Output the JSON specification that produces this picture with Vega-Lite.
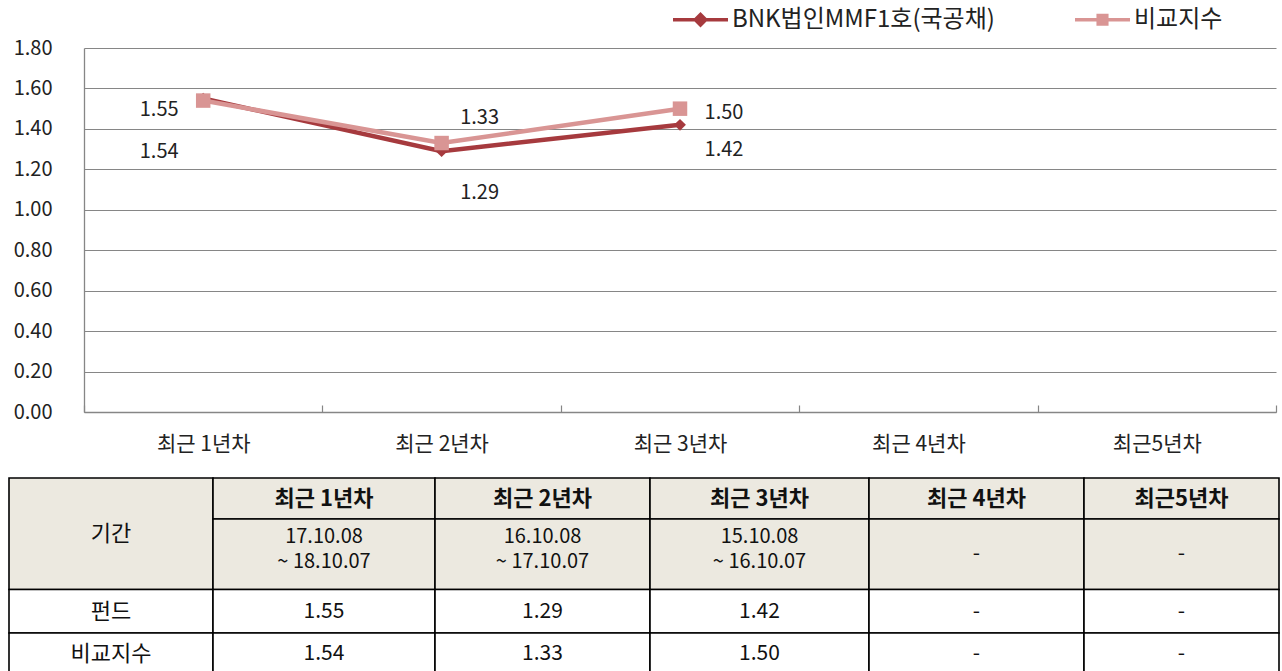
{
  "$schema": "https://vega.github.io/schema/vega-lite/v6.json",
  "width": 1192,
  "height": 364,
  "autosize": {"type": "none"},
  "padding": {"left": 84, "top": 48, "right": 6, "bottom": 259},
  "background": "white",
  "config": {"font": "Noto Sans CJK KR", "view": {"stroke": null}},
  "datasets": {
    "series": [
      {"period": "최근 1년차", "series": "BNK법인MMF1호(국공채)", "value": 1.55},
      {"period": "최근 2년차", "series": "BNK법인MMF1호(국공채)", "value": 1.29},
      {"period": "최근 3년차", "series": "BNK법인MMF1호(국공채)", "value": 1.42},
      {"period": "최근 1년차", "series": "비교지수", "value": 1.54},
      {"period": "최근 2년차", "series": "비교지수", "value": 1.33},
      {"period": "최근 3년차", "series": "비교지수", "value": 1.50}
    ],
    "cells": [
      {"row": 0, "rowEnd": 2, "col": 0, "colEnd": 1, "label": "기간"},
      {"row": 0, "rowEnd": 1, "col": 1, "colEnd": 2, "label": "최근 1년차"},
      {"row": 0, "rowEnd": 1, "col": 2, "colEnd": 3, "label": "최근 2년차"},
      {"row": 0, "rowEnd": 1, "col": 3, "colEnd": 4, "label": "최근 3년차"},
      {"row": 0, "rowEnd": 1, "col": 4, "colEnd": 5, "label": "최근 4년차"},
      {"row": 0, "rowEnd": 1, "col": 5, "colEnd": 6, "label": "최근5년차"},
      {"row": 1, "rowEnd": 2, "col": 1, "colEnd": 2, "label": ["17.10.08", "~ 18.10.07"]},
      {"row": 1, "rowEnd": 2, "col": 2, "colEnd": 3, "label": ["16.10.08", "~ 17.10.07"]},
      {"row": 1, "rowEnd": 2, "col": 3, "colEnd": 4, "label": ["15.10.08", "~ 16.10.07"]},
      {"row": 1, "rowEnd": 2, "col": 4, "colEnd": 5, "label": "-"},
      {"row": 1, "rowEnd": 2, "col": 5, "colEnd": 6, "label": "-"},
      {"row": 2, "rowEnd": 3, "col": 0, "colEnd": 1, "label": "펀드"},
      {"row": 2, "rowEnd": 3, "col": 1, "colEnd": 2, "label": "1.55"},
      {"row": 2, "rowEnd": 3, "col": 2, "colEnd": 3, "label": "1.29"},
      {"row": 2, "rowEnd": 3, "col": 3, "colEnd": 4, "label": "1.42"},
      {"row": 2, "rowEnd": 3, "col": 4, "colEnd": 5, "label": "-"},
      {"row": 2, "rowEnd": 3, "col": 5, "colEnd": 6, "label": "-"},
      {"row": 3, "rowEnd": 4, "col": 0, "colEnd": 1, "label": "비교지수"},
      {"row": 3, "rowEnd": 4, "col": 1, "colEnd": 2, "label": "1.54"},
      {"row": 3, "rowEnd": 4, "col": 2, "colEnd": 3, "label": "1.33"},
      {"row": 3, "rowEnd": 4, "col": 3, "colEnd": 4, "label": "1.50"},
      {"row": 3, "rowEnd": 4, "col": 4, "colEnd": 5, "label": "-"},
      {"row": 3, "rowEnd": 4, "col": 5, "colEnd": 6, "label": "-"}
    ]
  },
  "layer": [
    {
      "data": {"name": "series"},
      "encoding": {
        "x": {
          "field": "period", "type": "nominal",
          "scale": {"domain": ["최근 1년차", "최근 2년차", "최근 3년차", "최근 4년차", "최근5년차"], "paddingInner": 0, "paddingOuter": 0},
          "axis": {"title": null, "labelAngle": 0, "labelFontSize": 21, "labelColor": "#222", "labelPadding": 28,
                   "domainColor": "#868686", "domainWidth": 1.3, "tickColor": "#868686", "tickWidth": 1.2,
                   "tickBand": "extent", "tickSize": -7, "grid": false}
        },
        "y": {
          "field": "value", "type": "quantitative",
          "scale": {"domain": [0, 1.8], "nice": false},
          "axis": {"title": null, "values": [0, 0.2, 0.4, 0.6, 0.8, 1.0, 1.2, 1.4, 1.6, 1.8], "format": ".2f",
                   "grid": true, "gridColor": "#868686", "gridWidth": 1.2, "ticks": false,
                   "domainColor": "#868686", "domainWidth": 1.3, "labelFontSize": 20, "labelColor": "#222", "labelPadding": 32}
        },
        "color": {
          "field": "series", "type": "nominal",
          "scale": {"domain": ["BNK법인MMF1호(국공채)", "비교지수"], "range": ["#A63A3E", "#D99594"]},
          "legend": {
            "title": null, "orient": "none", "legendX": 589, "legendY": -56, "direction": "horizontal",
            "labelFontSize": 24, "labelColor": "#222", "labelOffset": 4, "labelLimit": 0, "columnPadding": 80,
            "symbolSize": 3025, "symbolStrokeWidth": 0,
            "encode": {
              "symbols": {
                "update": {
                  "shape": {"signal": "datum.value === '비교지수' ? 'M-1,-0.06H1V0.06H-1Z M-0.22,-0.22H0.22V0.22H-0.22Z' : 'M-1,-0.06H1V0.06H-1Z M0,-0.28L0.28,0L0,0.28L-0.28,0Z'"},
                  "fill": {"signal": "datum.value === '비교지수' ? '#D99594' : '#A63A3E'"},
                  "stroke": {"value": "transparent"},
                  "strokeWidth": {"value": 0},
                  "size": {"value": 3025},
                  "opacity": {"value": 1}
                }
              }
            }
          }
        }
      },
      "layer": [
        {"mark": {"type": "line", "strokeWidth": 4.5}},
        {
          "transform": [{"filter": "datum.series === 'BNK법인MMF1호(국공채)'"}],
          "mark": {"type": "point", "shape": "diamond", "filled": true, "size": 140, "opacity": 1}
        },
        {
          "transform": [{"filter": "datum.series === '비교지수'"}],
          "mark": {"type": "point", "shape": "square", "filled": true, "size": 210, "opacity": 1}
        },
        {
          "mark": {
            "type": "text", "fontSize": 20, "baseline": "middle", "align": "center",
            "dx": {"expr": "datum.period === '최근 1년차' ? -44 : (datum.period === '최근 2년차' ? 38 : 44)"},
            "dy": {"expr": "datum.series === '비교지수' ? (datum.period === '최근 1년차' ? 51 : (datum.period === '최근 2년차' ? -25 : 4)) : (datum.period === '최근 1년차' ? 11 : (datum.period === '최근 2년차' ? 42 : 25))"}
          },
          "encoding": {
            "text": {"field": "value", "type": "quantitative", "format": ".2f"},
            "color": {"value": "#222"}
          }
        }
      ]
    },
    {
      "data": {"name": "cells"},
      "layer": [
        {
          "encoding": {
            "x": {"field": "col", "type": "quantitative",
                  "scale": {"domain": [0, 1, 2, 3, 4, 5, 6], "range": [-75, 129, 351, 566, 785, 1000, 1195], "nice": false, "zero": false},
                  "axis": null},
            "y": {"field": "row", "type": "quantitative",
                  "scale": {"domain": [0, 1, 2, 3, 4], "range": [430, 471, 541.5, 585, 627], "nice": false, "zero": false},
                  "axis": null}
          },
          "layer": [
            {
              "mark": {"type": "rect", "stroke": "#000", "strokeWidth": 1.6},
              "encoding": {
                "x2": {"field": "colEnd"},
                "y2": {"field": "rowEnd"},
                "fill": {"condition": {"test": "datum.row < 2", "value": "#ECE9E0"}, "value": "#FFFFFF"}
              }
            },
            {
              "data": {"values": [{"line": "header-body"}]},
              "mark": {"type": "rule", "color": "#000", "strokeWidth": 4.6},
              "encoding": {"x": {"datum": 0}, "x2": {"datum": 6}, "y": {"datum": 2}}
            },
            {
              "data": {"values": [{"line": "header-body"}]},
              "mark": {"type": "rule", "color": "#FFFFFF", "strokeWidth": 1.6},
              "encoding": {"x": {"datum": 0}, "x2": {"datum": 6}, "y": {"datum": 2}}
            }
          ]
        },
        {
          "encoding": {
            "x": {"field": "col", "type": "quantitative",
                  "scale": {"domain": [0, 1, 2, 3, 4, 5], "range": [27, 240, 458.5, 675.5, 892.5, 1097.5], "nice": false, "zero": false},
                  "axis": null},
            "y": {"field": "row", "type": "quantitative",
                  "scale": {"domain": [0, 1, 2, 3], "range": [450.5, 506, 564, 606], "nice": false, "zero": false},
                  "axis": null},
            "text": {"field": "label", "type": "nominal"}
          },
          "layer": [
            {
              "transform": [{"filter": "datum.row === 0 && datum.col > 0"}],
              "mark": {"type": "text", "fontSize": 22, "fontWeight": "bold", "color": "#111", "baseline": "middle", "align": "center"}
            },
            {
              "transform": [{"filter": "datum.row === 0 && datum.col === 0"}],
              "mark": {"type": "text", "fontSize": 22, "color": "#111", "baseline": "middle", "align": "center", "dy": 35}
            },
            {
              "transform": [{"filter": "datum.row === 1 && datum.col <= 3"}],
              "mark": {"type": "text", "fontSize": 20, "color": "#111", "baseline": "middle", "align": "center", "lineHeight": 25, "dy": -17}
            },
            {
              "transform": [{"filter": "datum.row > 1 && datum.col === 0"}],
              "mark": {"type": "text", "fontSize": 22, "color": "#111", "baseline": "middle", "align": "center"}
            },
            {
              "transform": [{"filter": "(datum.row === 1 && datum.col > 3) || (datum.row > 1 && datum.col > 0)"}],
              "mark": {"type": "text", "fontSize": 21, "color": "#111", "baseline": "middle", "align": "center"}
            }
          ],
          "resolve": {"scale": {"x": "shared", "y": "shared"}}
        }
      ],
      "resolve": {"scale": {"x": "independent", "y": "independent"}}
    }
  ],
  "resolve": {"scale": {"x": "independent", "y": "independent"}}
}
